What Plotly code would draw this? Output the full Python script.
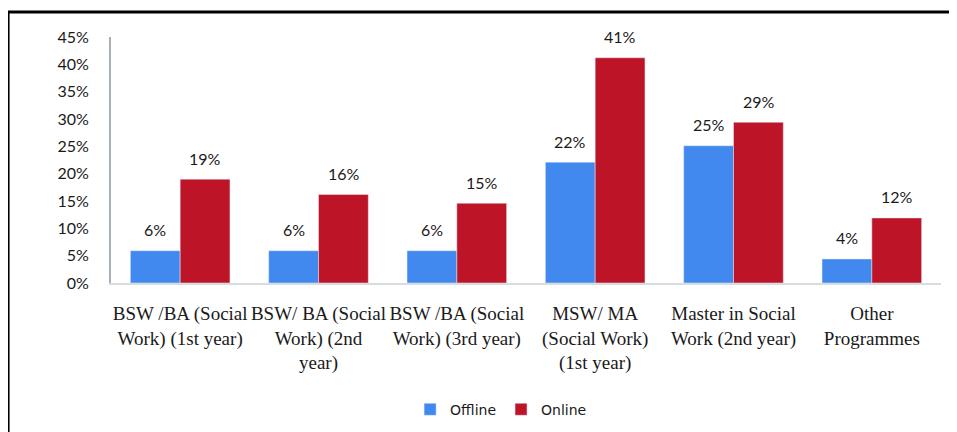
import plotly.graph_objects as go

programmes = [
    "BSW /BA (Social<br>Work) (1st year)",
    "BSW/ BA (Social<br>Work) (2nd<br>year)",
    "BSW /BA (Social<br>Work) (3rd year)",
    "MSW/ MA<br>(Social Work)<br>(1st year)",
    "Master in Social<br>Work (2nd year)",
    "Other<br>Programmes",
]
offline = [0.059, 0.059, 0.059, 0.221, 0.251, 0.044]
online = [0.19, 0.162, 0.146, 0.412, 0.294, 0.119]
y_ticks = [0, 0.05, 0.10, 0.15, 0.20, 0.25, 0.30, 0.35, 0.40, 0.45]

label_font = dict(family="Lato, Open Sans, sans-serif", size=16, color="#1a1a1a")

fig = go.Figure()
fig.add_trace(go.Bar(name="Offline", x=programmes, y=offline, marker_color="#4189ee"))
fig.add_trace(go.Bar(name="Online", x=programmes, y=online, marker_color="#be1428"))

# value labels sit well above the bars, so put them on as annotations
annotations = []
for series, shift in ((offline, -25), (online, 25)):
    for cat, val in zip(programmes, series):
        annotations.append(dict(
            x=cat, y=val, xref="x", yref="y",
            text=f"{val:.0%}", showarrow=False,
            xshift=shift, yshift=21, font=label_font,
        ))

fig.update_layout(
    width=957, height=432,
    margin=dict(l=103, r=24, t=29, b=157),
    paper_bgcolor="white", plot_bgcolor="white",
    barmode="group", bargap=0.28, bargroupgap=0,
    showlegend=True,
    legend=dict(
        orientation="h", x=0.47, y=-0.515, xanchor="center", yanchor="middle",
        font=dict(family="DejaVu Sans, sans-serif", size=14, color="#1a1a1a"),
        itemwidth=30, traceorder="normal",
    ),
    annotations=annotations,
    # outer frame round the whole chart
    shapes=[dict(
        type="rect", xref="paper", yref="paper",
        x0=-0.124, x1=1.012, y0=-0.75, y1=1.102,
        line=dict(color="black", width=3), fillcolor="rgba(0,0,0,0)",
    )],
)

fig.update_yaxes(
    range=[0, 0.45], tickvals=y_ticks, tickformat=".0%",
    showgrid=False, zeroline=False, automargin=False,
    showline=True, linecolor="#a7b0b5", linewidth=2,
    tickfont=label_font, ticklabelstandoff=17,
)
fig.update_xaxes(
    showgrid=False, showline=True, linecolor="#d5dde0", linewidth=2,
    automargin=False,
    tickfont=dict(family="Liberation Serif, serif", size=19, color="#1a1a1a"),
    tickangle=0, ticklabelstandoff=12,
)

fig.write_html("out.html")
